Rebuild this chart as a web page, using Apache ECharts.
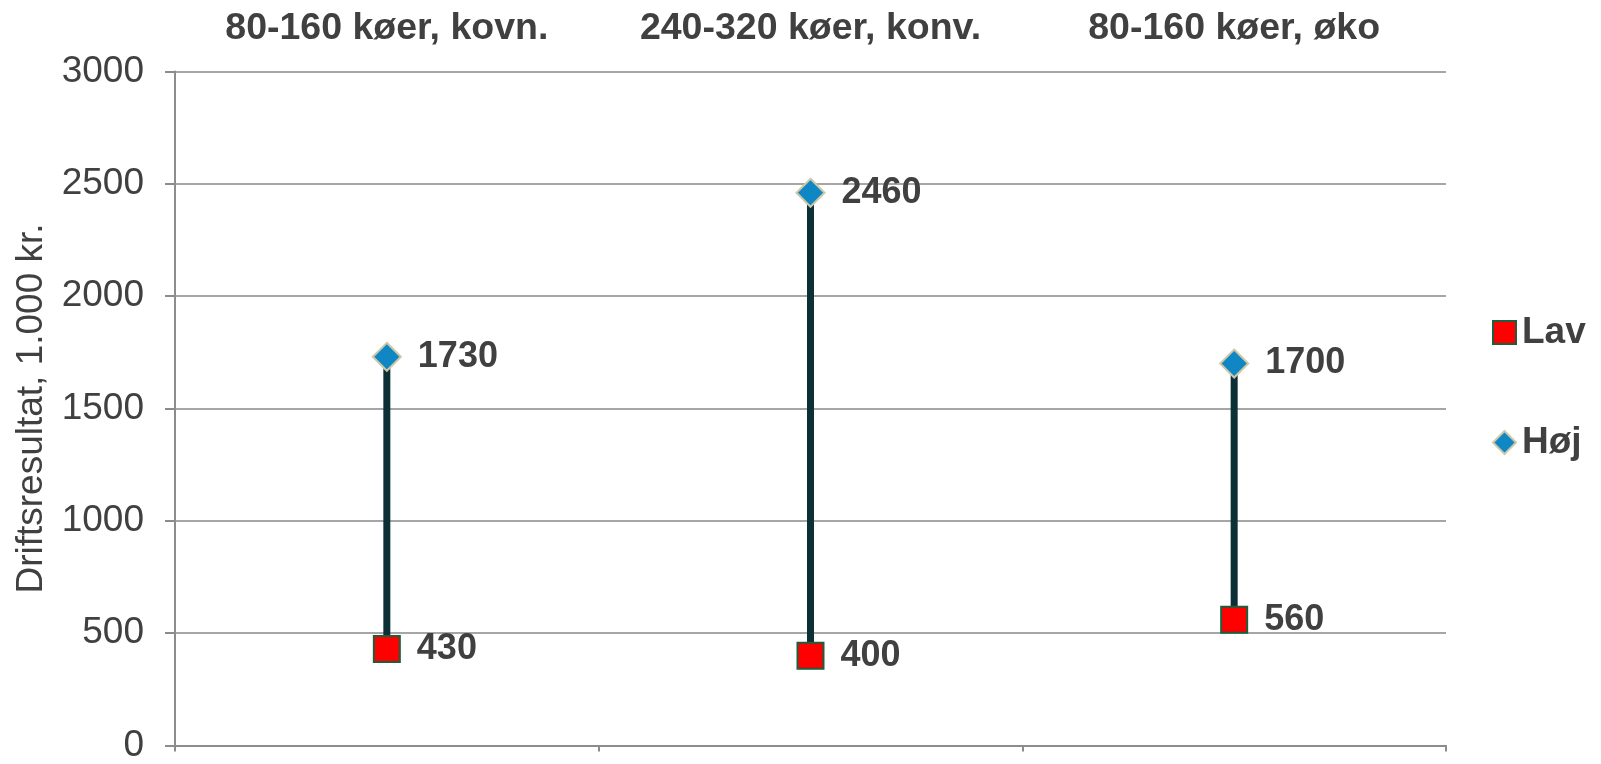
<!DOCTYPE html>
<html>
<head>
<meta charset="utf-8">
<script src="https://cdn.jsdelivr.net/npm/echarts@6/dist/echarts.min.js"></script>
<style>
html,body{margin:0;padding:0;background:#fff;}
#c{width:1601px;height:764px;}
</style>
</head>
<body>
<div id="c"></div>
<script>
const categories = ['80-160 køer, kovn.', '240-320 køer, konv.', '80-160 køer, øko'];
const lavValues = [430, 400, 560];
const hojValues = [1730, 2460, 1700];
const yTicks = [0, 500, 1000, 1500, 2000, 2500, 3000];
const seriesNames = ['Lav', 'Høj'];
const yAxisTitle = 'Driftsresultat, 1.000 kr.';

const FONT = '"Liberation Sans", Arial, sans-serif';
const TXT = '#404040';

const rangeData = categories.map((c, i) => [i, lavValues[i], hojValues[i]]);

const chart = echarts.init(document.getElementById('c'), null, {renderer: 'canvas'});
chart.setOption({
  animation: false,
  backgroundColor: '#ffffff',
  textStyle: {fontFamily: FONT},
  grid: {left: 175, right: 155, top: 71.5, bottom: 14.5, containLabel: false},
  legend: {
    orient: 'vertical',
    left: 1487,
    top: 309,
    itemWidth: 23,
    itemHeight: 23,
    itemGap: 73,
    textStyle: {fontFamily: FONT, fontSize: 37, fontWeight: 'bold', color: TXT, padding: [0,0,0,1]},
    data: [
      {name: seriesNames[0], icon: 'rect'},
      {name: seriesNames[1], icon: 'diamond'}
    ]
  },
  xAxis: [
    {
      type: 'category',
      data: categories,
      position: 'bottom',
      boundaryGap: true,
      axisLine: {show: true, lineStyle: {color: '#8c8c8c', width: 2}},
      axisTick: {show: true, length: 6, lineStyle: {color: '#8c8c8c', width: 2}},
      axisLabel: {show: false},
      splitLine: {show: false}
    },
    {
      type: 'category',
      data: categories,
      position: 'top',
      boundaryGap: true,
      axisLine: {show: false},
      axisTick: {show: false},
      axisLabel: {show: true, interval: 0, hideOverlap: false, fontFamily: FONT, fontSize: 37.5, fontWeight: 'bold', color: TXT, margin: 24},
      splitLine: {show: false}
    }
  ],
  yAxis: {
    type: 'value',
    min: yTicks[0],
    max: yTicks[yTicks.length - 1],
    interval: yTicks[1] - yTicks[0],
    name: yAxisTitle,
    nameLocation: 'middle',
    nameGap: 114,
    nameTextStyle: {fontFamily: FONT, fontSize: 37, color: TXT},
    axisLine: {show: true, lineStyle: {color: '#8c8c8c', width: 2}},
    axisTick: {show: true, length: 10, lineStyle: {color: '#8c8c8c', width: 2}},
    axisLabel: {fontFamily: FONT, fontSize: 37, color: TXT, margin: 31, formatter: function (v) { return String(v); }},
    splitLine: {show: true, lineStyle: {color: '#a6a6a6', width: 2}}
  },
  series: [
    {
      type: 'custom',
      name: 'range',
      xAxisIndex: 0,
      z: 1,
      silent: true,
      encode: {x: 0, y: [1, 2]},
      data: rangeData,
      renderItem: function (params, api) {
        const p1 = api.coord([api.value(0), api.value(1)]);
        const p2 = api.coord([api.value(0), api.value(2)]);
        return {
          type: 'line',
          shape: {x1: p1[0], y1: p1[1], x2: p2[0], y2: p2[1]},
          style: {stroke: '#0c3036', lineWidth: 7}
        };
      }
    },
    {
      type: 'scatter',
      name: seriesNames[0],
      xAxisIndex: 0,
      z: 3,
      symbol: 'rect',
      symbolSize: 26,
      itemStyle: {color: '#ff0000', borderColor: '#1d5e3c', borderWidth: 2, opacity: 1},
      label: {show: true, position: 'right', distance: 16, fontFamily: FONT, fontSize: 36, fontWeight: 'bold', color: TXT},
      data: lavValues
    },
    {
      type: 'scatter',
      name: seriesNames[1],
      xAxisIndex: 0,
      z: 3,
      symbol: 'diamond',
      symbolSize: 28,
      itemStyle: {color: '#0f87c4', borderColor: '#cfc8a8', borderWidth: 2, opacity: 1},
      label: {show: true, position: 'right', distance: 16, fontFamily: FONT, fontSize: 36, fontWeight: 'bold', color: TXT},
      data: hojValues
    }
  ]
});
</script>
</body>
</html>
